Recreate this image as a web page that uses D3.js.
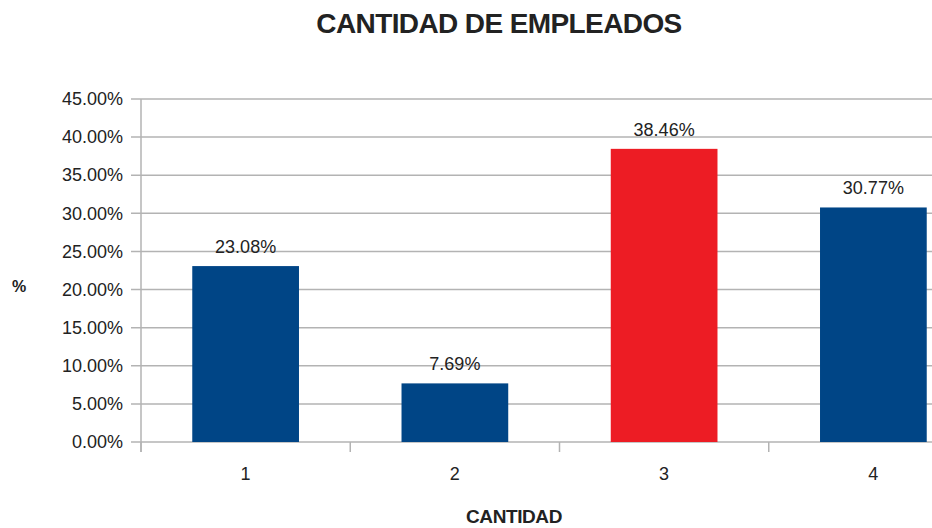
<!DOCTYPE html>
<html>
<head>
<meta charset="utf-8">
<script src="https://cdn.jsdelivr.net/npm/d3@7"></script>
<style>
  body { margin: 0; background: #fff; }
  text { font-family: "Liberation Sans", Arial, sans-serif; fill: #222; }
  .grid line { stroke: #b3b3b3; stroke-width: 1.5; }
  .axis path, .axis line { stroke: #b3b3b3; stroke-width: 1.5; }
</style>
</head>
<body>
<script>
// data
var categories = ["1", "2", "3", "4"];
var values = [23.08, 7.69, 38.46, 30.77];
var barColors = ["#004586", "#004586", "#ed1c24", "#004586"];
var yTicks = [0, 5, 10, 15, 20, 25, 30, 35, 40, 45];

var width = 932, height = 528;
var margin = { top: 99, left: 141, bottom: 86 };
var plotW = 837;
var plotH = height - margin.top - margin.bottom;

var svg = d3.select("body").append("svg")
    .attr("width", width)
    .attr("height", height);

var g = svg.append("g")
    .attr("transform", "translate(" + margin.left + "," + margin.top + ")");

var x = d3.scaleBand().domain(categories).range([0, plotW])
    .paddingInner(0.49).paddingOuter(0.245);
var y = d3.scaleLinear().domain([0, 45]).range([plotH, 0]);

// gridlines + y tick marks
g.append("g").attr("class", "grid")
    .selectAll("line")
    .data(yTicks)
    .enter()
    .append("line")
    .attr("x1", -10)
    .attr("x2", plotW)
    .attr("y1", function (d) { return y(d); })
    .attr("y2", function (d) { return y(d); });

// y axis labels
var yAxis = d3.axisLeft(y).tickValues(yTicks).tickSize(0).tickPadding(18)
    .tickFormat(function (d) { return d.toFixed(2) + "%"; });
g.append("g").attr("class", "axis y")
    .call(yAxis)
    .call(function (s) { s.select(".domain").remove(); })
    .selectAll("text")
    .style("font-size", "18px")
    .attr("fill", "#222");

// y axis line
g.append("line")
    .attr("x1", 0).attr("x2", 0)
    .attr("y1", 0).attr("y2", plotH + 10)
    .attr("stroke", "#b3b3b3").attr("stroke-width", 1.5);

// x tick marks at band boundaries
var step = x.step();
g.selectAll(".xtick")
    .data(categories)
    .enter()
    .append("line")
    .attr("class", "xtick")
    .attr("x1", function (d, i) { return i * step; })
    .attr("x2", function (d, i) { return i * step; })
    .attr("y1", plotH)
    .attr("y2", plotH + 10)
    .attr("stroke", "#b3b3b3").attr("stroke-width", 1.5);

// bars
g.selectAll(".bar")
    .data(values)
    .enter()
    .append("rect")
    .attr("class", "bar")
    .attr("x", function (d, i) { return x(categories[i]); })
    .attr("y", function (d) { return y(d); })
    .attr("width", x.bandwidth())
    .attr("height", function (d) { return plotH - y(d); })
    .attr("fill", function (d, i) { return barColors[i]; });

// value labels
g.selectAll(".label")
    .data(values)
    .enter()
    .append("text")
    .attr("class", "label")
    .attr("x", function (d, i) { return x(categories[i]) + x.bandwidth() / 2; })
    .attr("y", function (d) { return y(d); })
    .attr("dy", "-13")
    .attr("text-anchor", "middle")
    .style("font-size", "18px")
    .text(function (d) { return d.toFixed(2) + "%"; });

// category labels
g.selectAll(".cat")
    .data(categories)
    .enter()
    .append("text")
    .attr("class", "cat")
    .attr("x", function (d) { return x(d) + x.bandwidth() / 2; })
    .attr("y", plotH + 38)
    .attr("text-anchor", "middle")
    .style("font-size", "18px")
    .text(function (d) { return d; });

// titles
svg.append("text")
    .attr("x", 499)
    .attr("y", 33)
    .attr("text-anchor", "middle")
    .style("font-size", "28px")
    .style("font-weight", "bold")
    .style("letter-spacing", "-0.6px")
    .attr("fill", "#000")
    .text("CANTIDAD DE EMPLEADOS");

svg.append("text")
    .attr("x", 514)
    .attr("y", 523)
    .attr("text-anchor", "middle")
    .style("font-size", "19px")
    .style("font-weight", "bold")
    .style("letter-spacing", "-0.4px")
    .text("CANTIDAD");

svg.append("text")
    .attr("x", 12)
    .attr("y", 292)
    .style("font-size", "16px")
    .style("font-weight", "bold")
    .text("%");
</script>
</body>
</html>
